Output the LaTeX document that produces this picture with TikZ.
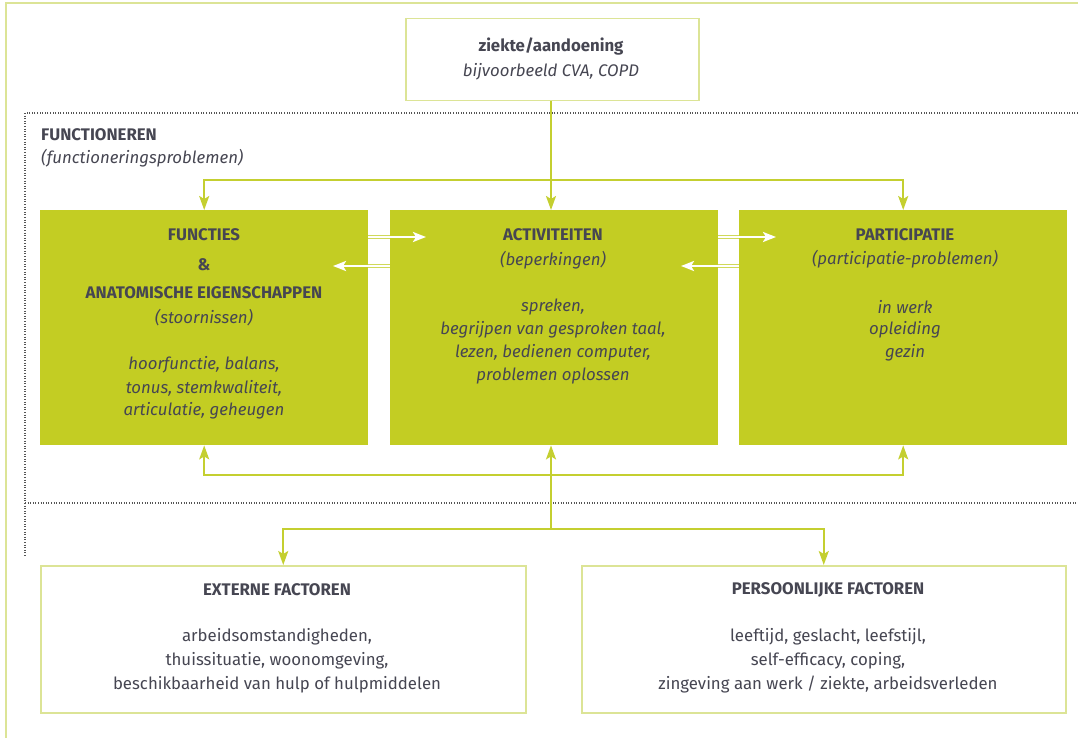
\documentclass[tikz,border=0pt]{standalone}
\usepackage{fontspec}
\setmainfont{Fira Sans}
\usetikzlibrary{arrows.meta,calc}
\definecolor{gfill}{RGB}{195,205,35}
\definecolor{gline}{RGB}{196,207,48}
\definecolor{gpale}{RGB}{220,228,150}
\definecolor{txt}{RGB}{70,70,82}
\definecolor{dotc}{RGB}{85,85,85}
\begin{document}
\begin{tikzpicture}[x=1pt,y=-1pt,
 gbox/.style={fill=gfill, draw=none, minimum width=328pt, minimum height=235pt, anchor=north west, inner sep=0pt},
 wbox/.style={draw=gpale, line width=1.5pt, fill=white, anchor=north west, inner sep=0pt},
 arr/.style={draw=gline, line width=2pt, -{Stealth[length=14pt,width=10pt,inset=3pt]}},
 ln/.style={draw=gline, line width=2pt},
 warr/.style={draw=white, line width=2.5pt, -{Stealth[length=13pt,width=10pt,inset=3pt]}},
 wedge/.style={draw=gline!80!white, line width=4.5pt},
 dots/.style={draw=dotc, line width=1.2pt, dash pattern=on 1pt off 1.6pt},
 tx/.style={text=txt, font=\fontsize{16.8}{20}\selectfont, inner sep=0pt},
 hd/.style={text=txt, font=\fontsize{16.8}{20}\selectfont\bfseries, inner sep=0pt},
 it/.style={text=txt, font=\fontsize{16.8}{20}\selectfont\itshape, inner sep=0pt},
]
\useasboundingbox (0,0) rectangle (1078,738);
% outer frame
\draw[gpale, line width=1.5pt] (6,738) -- (6,3) -- (1078,3);
% dotted region
\draw[dots] (1078,113) -- (25,113) -- (25,557);
\draw[dots] (25,503) -- (1078,503);

% boxes
\node[wbox, minimum width=293pt, minimum height=82pt] (top) at (405,18) {};
\node[gbox] (func) at (40,210) {};
\node[gbox] (act) at (390,210) {};
\node[gbox] (part) at (739,210) {};
\node[wbox, minimum width=485pt, minimum height=147pt] (ext) at (40,565) {};
\node[wbox, minimum width=484pt, minimum height=147pt] (pers) at (581,565) {};

% texts top
\node[hd] (t1) at (551,47) {ziekte/aandoening};
\node[it] (t2) at (551,72) {bijvoorbeeld CVA, COPD};
\node[hd, anchor=west] (t3) at (41,135) {FUNCTIONEREN};
\node[it, anchor=west] (t4) at (41,158) {(functioneringsproblemen)};

% functies
\node[hd] (f1) at (204,235) {FUNCTIES};
\node[hd] (f2) at (204,265) {\&};
\node[hd] (f3) at (204,293) {ANATOMISCHE EIGENSCHAPPEN};
\node[it] (f4) at (204,318) {(stoornissen)};
\node[it] (f5) at (204,365) {hoorfunctie, balans,};
\node[it] (f6) at (204,388) {tonus, stemkwaliteit,};
\node[it] (f7) at (204,411) {articulatie, geheugen};

% activiteiten
\node[hd] (a1) at (553,235) {ACTIVITEITEN};
\node[it] (a2) at (553,260) {(beperkingen)};
\node[it] (a3) at (553,307) {spreken,};
\node[it] (a4) at (553,330) {begrijpen van gesproken taal,};
\node[it] (a5) at (553,353) {lezen, bedienen computer,};
\node[it] (a6) at (553,376) {problemen oplossen};

% participatie
\node[hd] (p1) at (905,235) {PARTICIPATIE};
\node[it] (p2) at (905,259) {(participatie-problemen)};
\node[it] (p3) at (905,307) {in werk};
\node[it] (p4) at (905,330) {opleiding};
\node[it] (p5) at (905,353) {gezin};

% externe
\node[hd] (e1) at (277,590) {EXTERNE FACTOREN};
\node[tx] (e2) at (277,637) {arbeidsomstandigheden,};
\node[tx] (e3) at (277,661) {thuissituatie, woonomgeving,};
\node[tx] (e4) at (277,685) {beschikbaarheid van hulp of hulpmiddelen};

% persoonlijke
\node[hd] (q1) at (828,590) {PERSOONLIJKE FACTOREN};
\node[tx] (q2) at (828,637) {leeftijd, geslacht, leefstijl,};
\node[tx] (q3) at (828,661) {self-efficacy, coping,};
\node[tx] (q4) at (828,685) {zingeving aan werk / ziekte, arbeidsverleden};

% connectors top
\coordinate (jt) at (551,180);
\draw[arr] (top.south -| jt) -- (jt |- act.north);
\draw[arr] (jt) -| (func.north);
\draw[arr] (jt) -| (part.north);

% connectors bottom
\coordinate (jb) at (551,475);
\coordinate (jc) at (551,529);
\draw[arr] (jb) -- (jb |- act.south);
\draw[arr] (jb) -| (func.south);
\draw[arr] (jb) -| (part.south);
\draw[ln] (jb) -- (jc);
\draw[arr] (jc) -| (ext.north);
\draw[arr] (jc) -| (pers.north);

% white arrows between boxes
\coordinate (w1) at (426,237);
\coordinate (w2) at (333,266);
\coordinate (w3) at (776,237);
\coordinate (w4) at (681,266);
\draw[wedge] (func.east |- w1) -- (act.west |- w1);
\draw[wedge] (func.east |- w2) -- (act.west |- w2);
\draw[wedge] (act.east |- w3) -- (part.west |- w3);
\draw[wedge] (act.east |- w4) -- (part.west |- w4);
\draw[warr] (func.east |- w1) -- (w1);
\draw[warr] (act.west |- w2) -- (w2);
\draw[warr] (act.east |- w3) -- (w3);
\draw[warr] (part.west |- w4) -- (w4);
\end{tikzpicture}
\end{document}
